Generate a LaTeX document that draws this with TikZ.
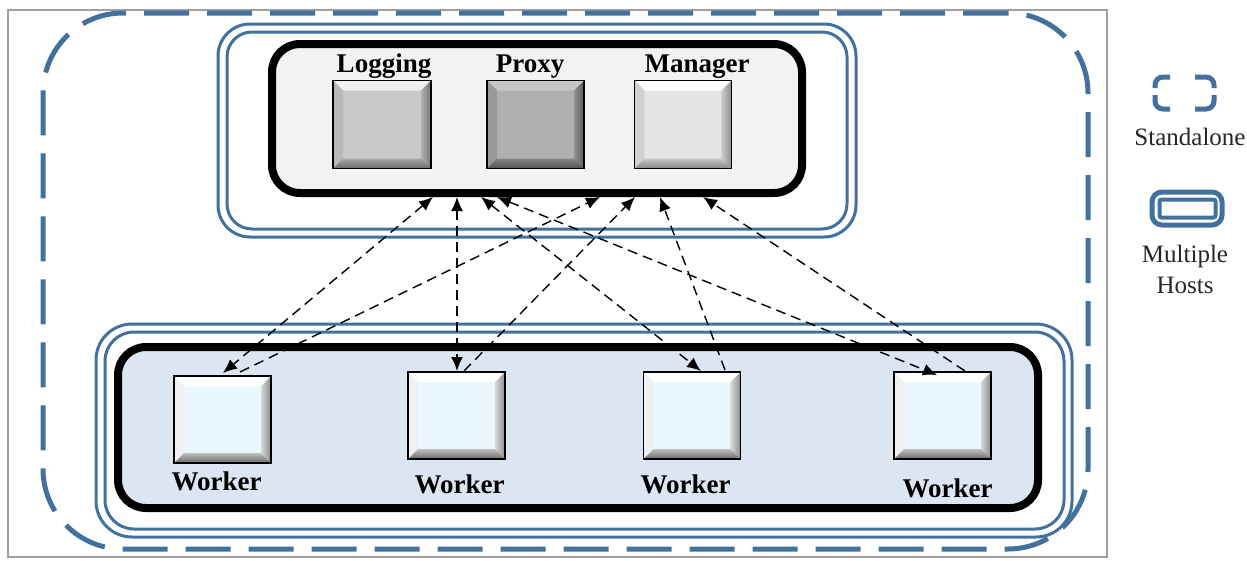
\documentclass[tikz,border=0pt]{standalone}
\usepackage{fontspec}
\setmainfont{Liberation Serif}
\usetikzlibrary{arrows.meta,calc}
\definecolor{hostblue}{RGB}{65,113,156}
\definecolor{framegray}{RGB}{160,160,160}
\definecolor{corefill}{RGB}{242,242,242}
\definecolor{workfill}{RGB}{220,230,242}
\definecolor{wmain}{RGB}{234,247,253}
% name, top, left, right-inner, right-outer, bottom-inner, bottom-outer
\newcommand{\bevelbx}[7]{%
 \fill[#2] (#1.north west) -- (#1.north east) -- ($(#1.north east)+(-10,10)$) -- ($(#1.north west)+(10,10)$) -- cycle;
 \fill[#3] (#1.north west) -- ($(#1.north west)+(10,10)$) -- ($(#1.south west)+(10,-10)$) -- (#1.south west) -- cycle;
 \shade[left color=#4, right color=#5] (#1.north east) -- ($(#1.north east)+(-10,10)$) -- ($(#1.south east)+(-10,-10)$) -- (#1.south east) -- cycle;
 \shade[top color=#6, bottom color=#7] (#1.south west) -- ($(#1.south west)+(10,-10)$) -- ($(#1.south east)+(-10,-10)$) -- (#1.south east) -- cycle;
 \draw[line width=1.3] (#1.north west) rectangle (#1.south east);
}
\tikzset{
 box/.style={inner sep=0pt, outer sep=0pt},
 standalonebox/.style={box, draw=hostblue, line width=5pt, rounded corners=80pt, dash pattern=on 45pt off 18pt},
 hostline/.style={box, draw=hostblue, line width=3pt},
 corebox/.style={box, draw=black, line width=8pt, rounded corners=28pt},
 srv/.style={box, draw=black, line width=1.3pt},
 lbl/.style={font=\fontsize{27}{30}\selectfont\bfseries, anchor=base, inner sep=0pt},
 leg/.style={font=\fontsize{25}{28}\selectfont, text=black!85, anchor=base, inner sep=0pt},
 conn/.style={line width=1.4pt, dash pattern=on 10pt off 6pt},
}
\begin{document}
\begin{tikzpicture}[x=1pt,y=-1pt, >={Latex[length=14pt,width=12pt]}]
\useasboundingbox (0,0) rectangle (1247,560);
% frame
\draw[framegray, line width=1.5pt] (8,10) rectangle (1107,557);
% standalone
\node[standalonebox, minimum width=1045pt, minimum height=536pt] (sa) at (565.5,281) {};
% top host group
\node[hostline, rounded corners=32pt, minimum width=638pt, minimum height=213pt] (th1) at (537,130.5) {};
\node[hostline, rounded corners=25pt, minimum width=620pt, minimum height=197pt] (th2) at (537,130.5) {};
\node[corebox, fill=corefill, minimum width=530pt, minimum height=149pt] (core) at (537,118.5) {};
% bottom host group
\node[hostline, rounded corners=36pt, minimum width=976pt, minimum height=213pt] (bh1) at (584,430.5) {};
\node[hostline, rounded corners=29pt, minimum width=959pt, minimum height=197pt] (bh2) at (584.5,430.5) {};
\node[corebox, fill=workfill, minimum width=920pt, minimum height=161pt] (wk) at (578,427.5) {};
% servers
\node[srv, fill=black!21, minimum width=98pt, minimum height=88pt] (log) at (382,124.5) {};
\bevelbx{log}{black!6}{black!28}{black!30}{black!55}{black!35}{black!58}
\node[srv, fill=black!31, minimum width=97pt, minimum height=88pt] (prx) at (535.5,124.5) {};
\bevelbx{prx}{black!22}{black!40}{black!42}{black!65}{black!48}{black!68}
\node[srv, fill=black!10, minimum width=97pt, minimum height=88pt] (mgr) at (683,124.5) {};
\bevelbx{mgr}{white}{black!18}{black!20}{black!45}{black!22}{black!48}
\node[lbl] (tlog) at (384,72) {Logging};
\node[lbl] (tprx) at (530,72) {Proxy};
\node[lbl] (tmgr) at (697,72) {Manager};
% workers
\node[srv, fill=wmain, minimum width=97pt, minimum height=87pt] (w1) at (222.5,419.5) {};
\node[srv, fill=wmain, minimum width=97pt, minimum height=87pt] (w2) at (456.5,415.5) {};
\node[srv, fill=wmain, minimum width=97pt, minimum height=87pt] (w3) at (692,415.5) {};
\node[srv, fill=wmain, minimum width=97pt, minimum height=87pt] (w4) at (942.5,415.5) {};
\foreach \w in {w1,w2,w3,w4}{\bevelbx{\w}{white}{black!6}{black!15}{black!45}{black!25}{black!58}}
\node[lbl] (tw1) at (216.5,490) {Worker};
\node[lbl] (tw2) at (459.5,493) {Worker};
\node[lbl] (tw3) at (685.5,493) {Worker};
\node[lbl] (tw4) at (947.5,497) {Worker};
% connector ends
\coordinate (t1) at (433,197);
\coordinate (t2) at (457,197);
\coordinate (t3) at (481,197);
\coordinate (t4) at (497,197);
\coordinate (t5) at (600,197);
\coordinate (t6) at (635,197);
\coordinate (t7) at (660,197);
\coordinate (t8) at (703,197);
\coordinate (w1a) at (223,373);
\coordinate (w1b) at (240,372);
\coordinate (w2a) at (457,371);
\coordinate (w2b) at (464,371);
\coordinate (w3a) at (701,371);
\coordinate (w3b) at (725,370);
\coordinate (w4a) at (937,375);
\coordinate (w4b) at (965,371);
\draw[conn,<->] (t1) -- (w1a);
\draw[conn,<->] (t2) -- (w2a);
\draw[conn,<->] (t3) -- (w3a);
\draw[conn,<->] (t4) -- (w4a);
\draw[conn,->] (w1b) -- (t5);
\draw[conn,->] (w2b) -- (t6);
\draw[conn,->] (w3b) -- (t7);
\draw[conn,->] (w4b) -- (t8);
% legend
\begin{scope}[hostblue, line width=5pt, rounded corners=8pt]
\draw (1155,88) -- (1155,77) -- (1170,77);
\draw (1195,77) -- (1214,77) -- (1214,88);
\draw (1214,95) -- (1214,109) -- (1195,109);
\draw (1170,109) -- (1155,109) -- (1155,95);
\end{scope}
\node[leg] (lsa) at (1190,145) {Standalone};
\draw[hostblue, line width=5pt, rounded corners=10pt] (1152,192) rectangle (1222,225);
\draw[hostblue, line width=4pt, rounded corners=2pt] (1159.5,199.5) rectangle (1215.5,217.5);
\node[leg] (lmh1) at (1185,262) {Multiple};
\node[leg] (lmh2) at (1185,293) {Hosts};
\end{tikzpicture}
\end{document}
